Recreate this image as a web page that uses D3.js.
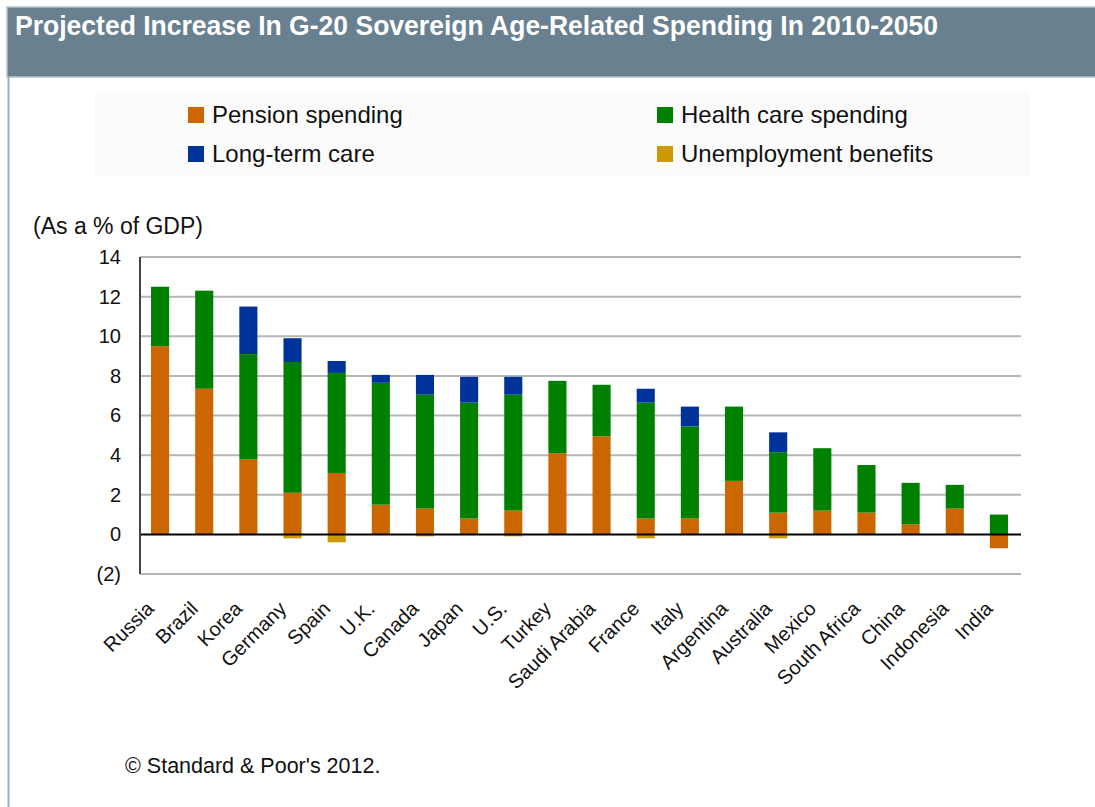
<!DOCTYPE html>
<html>
<head>
<meta charset="utf-8">
<script src="https://cdn.jsdelivr.net/npm/d3@7"></script>
<style>
  html, body { margin: 0; padding: 0; background: #ffffff; }
  svg { display: block; }
  text { font-family: "Liberation Sans", Arial, sans-serif; }
</style>
</head>
<body>
<svg id="chart" width="1095" height="807"></svg>
<script>
const countries = ["Russia", "Brazil", "Korea", "Germany", "Spain", "U.K.", "Canada", "Japan", "U.S.", "Turkey",
  "Saudi Arabia", "France", "Italy", "Argentina", "Australia", "Mexico", "South Africa", "China", "Indonesia", "India"];
const pension = [9.5, 7.35, 3.8, 2.1, 3.1, 1.5, 1.3, 0.8, 1.2, 4.1, 4.95, 0.8, 0.8, 2.7, 1.1, 1.2, 1.1, 0.5, 1.3, -0.7];
const health = [3.0, 4.95, 5.3, 6.6, 5.05, 6.15, 5.75, 5.85, 5.85, 3.65, 2.6, 5.85, 4.65, 3.75, 3.05, 3.15, 2.4, 2.1, 1.2, 1.0];
const longTermCare = [0, 0, 2.4, 1.2, 0.6, 0.4, 1.0, 1.3, 0.9, 0, 0, 0.7, 1.0, 0, 1.0, 0, 0, 0, 0, 0];
const unemployment = [0, 0, 0, -0.2, -0.4, 0, -0.1, 0, -0.1, 0, 0, -0.2, 0, 0, -0.2, 0, 0, 0, 0, 0];
const seriesNames = ["Pension spending", "Health care spending", "Long-term care", "Unemployment benefits"];
const seriesKeys = ["pension", "health", "ltc", "unemp"];
const seriesColors = ["#CC6600", "#008000", "#003399", "#CC9900"];
const yTicks = [-2, 0, 2, 4, 6, 8, 10, 12, 14];
const yTickLabels = ["(2)", "0", "2", "4", "6", "8", "10", "12", "14"];
const titleText = "Projected Increase In G-20 Sovereign Age-Related Spending In 2010-2050";
const unitText = "(As a % of GDP)";
const sourceText = "\u00A9 Standard & Poor's 2012.";

const rows = countries.map((c, i) => ({
  country: c, pension: pension[i], health: health[i], ltc: longTermCare[i], unemp: unemployment[i]
}));

const svg = d3.select("#chart");

// Title bar
svg.append("rect").attr("x", 7).attr("y", 7).attr("width", 1095).attr("height", 70)
  .attr("fill", "#68808F").attr("stroke", "#b4c2cc").attr("stroke-width", 1.5);
svg.append("line").attr("x1", 8.5).attr("x2", 8.5).attr("y1", 77).attr("y2", 807)
  .attr("stroke", "#9fb0bd").attr("stroke-width", 2);
svg.append("text").attr("x", 15).attr("y", 35)
  .attr("fill", "#ffffff").attr("font-weight", "bold").attr("font-size", 28)
  .attr("textLength", 923).attr("lengthAdjust", "spacingAndGlyphs")
  .text(titleText);

// Legend
svg.append("rect").attr("x", 95).attr("y", 91).attr("width", 935).attr("height", 86).attr("fill", "#fbfbfb");
const legendPos = [[188, 107], [657, 107], [188, 146], [657, 146]];
seriesNames.forEach((n, i) => {
  const [lx, ly] = legendPos[i];
  svg.append("rect").attr("x", lx).attr("y", ly).attr("width", 16).attr("height", 16)
    .attr("fill", seriesColors[i]);
  svg.append("text").attr("x", lx + 24).attr("y", ly + 16).attr("font-size", 24)
    .attr("fill", "#111").text(n);
});

// Scales
const x = d3.scaleBand().domain(countries).range([138, 1021]).paddingInner(0.59).paddingOuter(0.295);
const y = d3.scaleLinear().domain([-2, 14]).range([574, 257]);

// Gridlines
svg.append("g").selectAll("line").data(yTicks.filter(t => t !== 0)).join("line")
  .attr("x1", 140).attr("x2", 1021)
  .attr("y1", d => y(d)).attr("y2", d => y(d))
  .attr("stroke", "#b6b6b6").attr("stroke-width", 2);

// Y axis labels
const yAxis = d3.axisLeft(y).tickValues(yTicks).tickSize(0).tickPadding(19)
  .tickFormat((d, i) => yTickLabels[i]);
const gy = svg.append("g").attr("transform", "translate(140,0)").call(yAxis);
gy.select(".domain").remove();
gy.selectAll("text").attr("font-size", 20).attr("fill", "#111")
  .style("font-family", "'Liberation Sans', Arial, sans-serif");

svg.append("text").attr("x", 33).attr("y", 234).attr("font-size", 23).attr("fill", "#111").text(unitText);

// Stacked bars
const stack = d3.stack().keys(seriesKeys).offset(d3.stackOffsetDiverging);
const stacked = stack(rows);
svg.append("g").selectAll("g").data(stacked).join("g")
  .attr("fill", (d, i) => seriesColors[i])
  .selectAll("rect").data(d => d.filter(p => p[1] !== p[0])).join("rect")
  .attr("x", d => x(d.data.country))
  .attr("width", x.bandwidth())
  .attr("y", d => y(Math.max(d[0], d[1])))
  .attr("height", d => Math.abs(y(d[0]) - y(d[1])));

// Zero line and y axis line
svg.append("line").attr("x1", 140).attr("x2", 1021).attr("y1", y(0)).attr("y2", y(0))
  .attr("stroke", "#000").attr("stroke-width", 2);
svg.append("line").attr("x1", 140).attr("x2", 140).attr("y1", y(14)).attr("y2", y(-2))
  .attr("stroke", "#444").attr("stroke-width", 2);

// X labels rotated
svg.append("g").selectAll("text").data(countries).join("text")
  .attr("transform", d => `translate(${x(d) + x.bandwidth() / 2 - 5},610) rotate(-45)`)
  .attr("text-anchor", "end").attr("font-size", 20).attr("fill", "#111")
  .text(d => d);

// Source
svg.append("text").attr("x", 125).attr("y", 773).attr("font-size", 21.5).attr("fill", "#111").text(sourceText);
</script>
</body>
</html>
